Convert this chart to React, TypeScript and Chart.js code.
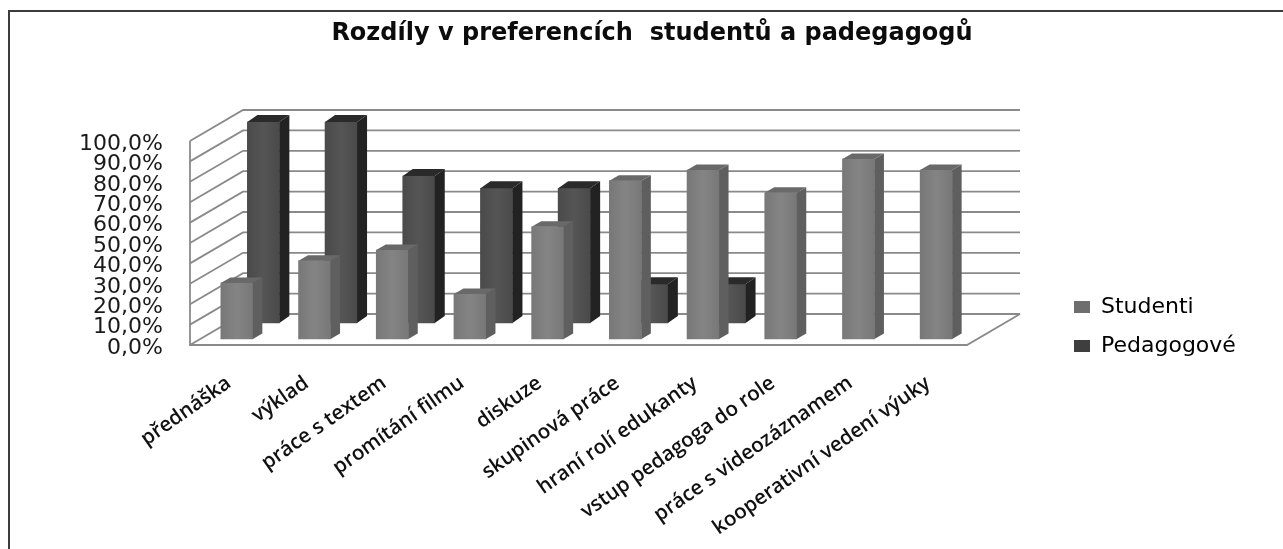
import { useEffect, useRef } from "react";
import { Chart, registerables } from "chart.js";

Chart.register(...registerables);

const titleText = "Rozdíly v preferencích  studentů a padegagogů";
const categories = [
  "přednáška",
  "výklad",
  "práce s textem",
  "promítání filmu",
  "diskuze",
  "skupinová práce",
  "hraní rolí edukanty",
  "vstup pedagoga do role",
  "práce s videozáznamem",
  "kooperativní vedení výuky",
];
const studenti = [27.5, 38.4, 43.6, 22, 55, 77.6, 82.8, 71.7, 88.2, 82.8];
const pedagogove = [98.5, 98.5, 72, 66, 66, 19, 19, null, null, null];

// Depth placement of each series on the floor, and the visual thickness of its bars.
const seriesStyles = [
  { shiftX: 8, shiftY: -6, depthX: 9.5, depthY: -5.5, edge: "#787878", mid: "#848484", side: "#5f5f5f", top: "#696969", swatch: "#6e6e6e" },
  { shiftX: 34.5, shiftY: -22, depthX: 10, depthY: -7, edge: "#4a4a4a", mid: "#555555", side: "#222222", top: "#2a2a2a", swatch: "#3e3e3e" },
];

const wallDepthX = 53;
const wallDepthY = -31;
const barWidth = 32;
const valueLabelDrop = 3;

const faces3d = {
  id: "faces3d",
  beforeDatasetsDraw(chart: any) {
    // Side wall, back wall and floor, laid out from the value axis.
    const { ctx, chartArea: a, scales } = chart;
    const y = scales.y;
    ctx.save();
    ctx.strokeStyle = "#8a8a8a";
    ctx.lineWidth = 1.8;
    ctx.beginPath();
    for (const tick of y.ticks) {
      const py = y.getPixelForValue(tick.value);
      ctx.moveTo(a.left, py);
      ctx.lineTo(a.left + wallDepthX, py + wallDepthY);
      ctx.lineTo(a.right + wallDepthX, py + wallDepthY);
    }
    ctx.moveTo(a.left, a.top);
    ctx.lineTo(a.left, a.bottom);
    ctx.lineTo(a.right, a.bottom);
    ctx.lineTo(a.right + wallDepthX, a.bottom + wallDepthY);
    ctx.stroke();
    ctx.restore();
  },
  beforeDatasetDraw(chart: any, args: any) {
    const s = seriesStyles[args.index];
    chart.ctx.save();
    chart.ctx.translate(s.shiftX, s.shiftY);
  },
  afterDatasetDraw(chart: any, args: any) {
    const s = seriesStyles[args.index];
    const ctx = chart.ctx;
    args.meta.data.forEach((bar: any, i: number) => {
      if (chart.data.datasets[args.index].data[i] == null) return;
      const { x, y, base, width } = bar.getProps(["x", "y", "base", "width"], true);
      const l = x - width / 2;
      const r = x + width / 2;
      ctx.fillStyle = s.side;
      ctx.beginPath();
      ctx.moveTo(r, y);
      ctx.lineTo(r + s.depthX, y + s.depthY);
      ctx.lineTo(r + s.depthX, base + s.depthY);
      ctx.lineTo(r, base);
      ctx.closePath();
      ctx.fill();
      ctx.fillStyle = s.top;
      ctx.beginPath();
      ctx.moveTo(l, y);
      ctx.lineTo(l + s.depthX, y + s.depthY);
      ctx.lineTo(r + s.depthX, y + s.depthY);
      ctx.lineTo(r, y);
      ctx.closePath();
      ctx.fill();
    });
    ctx.restore();
  },
};

const frameAndPlacement = {
  id: "frameAndPlacement",
  afterLayout(chart: any) {
    // The legend sits well to the right of the plot and the title is centred on the frame.
    const legend = chart.legend;
    legend.left = 1057;
    legend.right = 1283;
    legend.top = 279;
    legend.bottom = 549;
    chart.titleBlock.left = 0;
    chart.titleBlock.right = 1304;

    // Value labels ride slightly below their grid lines.
    const y = chart.scales.y;
    const drawLabels = y.constructor.prototype.drawLabels;
    y.drawLabels = function (area: any) {
      chart.ctx.save();
      chart.ctx.translate(0, valueLabelDrop);
      drawLabels.call(this, area);
      chart.ctx.restore();
    };
  },
  beforeDraw(chart: any) {
    const { ctx, width, height } = chart;
    ctx.save();
    ctx.strokeStyle = "#3c3c3c";
    ctx.lineWidth = 2;
    ctx.beginPath();
    ctx.moveTo(9, height);
    ctx.lineTo(9, 11);
    ctx.lineTo(width, 11);
    ctx.stroke();
    ctx.restore();
  },
};

function faceGradient(index: number) {
  return (c: any) => {
    const s = seriesStyles[index];
    const scale = c.chart.scales.x;
    if (c.dataIndex === undefined || !scale) return s.swatch;
    const cx = scale.getPixelForValue(c.dataIndex);
    const g = c.chart.ctx.createLinearGradient(cx - barWidth / 2, 0, cx + barWidth / 2, 0);
    g.addColorStop(0, s.edge);
    g.addColorStop(0.5, s.mid);
    g.addColorStop(1, s.edge);
    return g;
  };
}

export default function App() {
  const ref = useRef<HTMLCanvasElement>(null);
  useEffect(() => {
    const chart = new Chart(ref.current!, {
      type: "bar",
      data: {
        labels: categories,
        datasets: [
          { label: "Studenti", data: studenti, backgroundColor: faceGradient(0), grouped: false, clip: false, barThickness: barWidth } as any,
          { label: "Pedagogové", data: pedagogove, backgroundColor: faceGradient(1), grouped: false, clip: false, barThickness: barWidth } as any,
        ],
      },
      options: {
        animation: false,
        responsive: false,
        layout: { padding: { left: 0, right: 316, top: 0, bottom: 0 } },
        plugins: {
          title: {
            display: true,
            text: titleText,
            color: "#0c0c0c",
            font: { family: "'DejaVu Sans'", weight: "bold", size: 24 },
            padding: { top: 19, bottom: 93.2 },
          },
          legend: {
            position: "chartArea",
            align: "start",
            labels: {
              boxWidth: 16,
              boxHeight: 12,
              padding: 17,
              color: "#111111",
              font: { family: "'DejaVu Sans'", size: 22 },
              generateLabels: (c: any) =>
                c.data.datasets.map((d: any, i: number) => ({
                  text: d.label,
                  fillStyle: seriesStyles[i].swatch,
                  strokeStyle: seriesStyles[i].swatch,
                  lineWidth: 0,
                  datasetIndex: i,
                })),
            },
          } as any,
          tooltip: { enabled: false },
        },
        scales: {
          x: {
            grid: { display: false },
            border: { display: false },
            afterFit: (s: any) => {
              s.height = 204;
            },
            ticks: {
              autoSkip: false,
              minRotation: 35,
              maxRotation: 35,
              padding: 18,
              color: "#111111",
              font: { family: "'Open Sans'", size: 20.5, weight: "600" },
            },
          },
          y: {
            min: 0,
            max: 100,
            grid: { display: false },
            border: { display: false },
            afterFit: (s: any) => {
              s.width = 190;
            },
            ticks: {
              autoSkip: false,
              stepSize: 10,
              padding: 19,
              color: "#1a1a1a",
              font: { family: "'DejaVu Sans'", size: 22 },
              callback: (v: any) => Number(v).toFixed(1).replace(".", ",") + "%",
            },
          },
        },
      },
      plugins: [faces3d, frameAndPlacement],
    } as any);
    return () => chart.destroy();
  }, []);
  return (
    <div style={{ position: "absolute", left: 0, top: 0, background: "#fff" }}>
      <canvas ref={ref} width={1283} height={549} style={{ display: "block" }} />
    </div>
  );
}
